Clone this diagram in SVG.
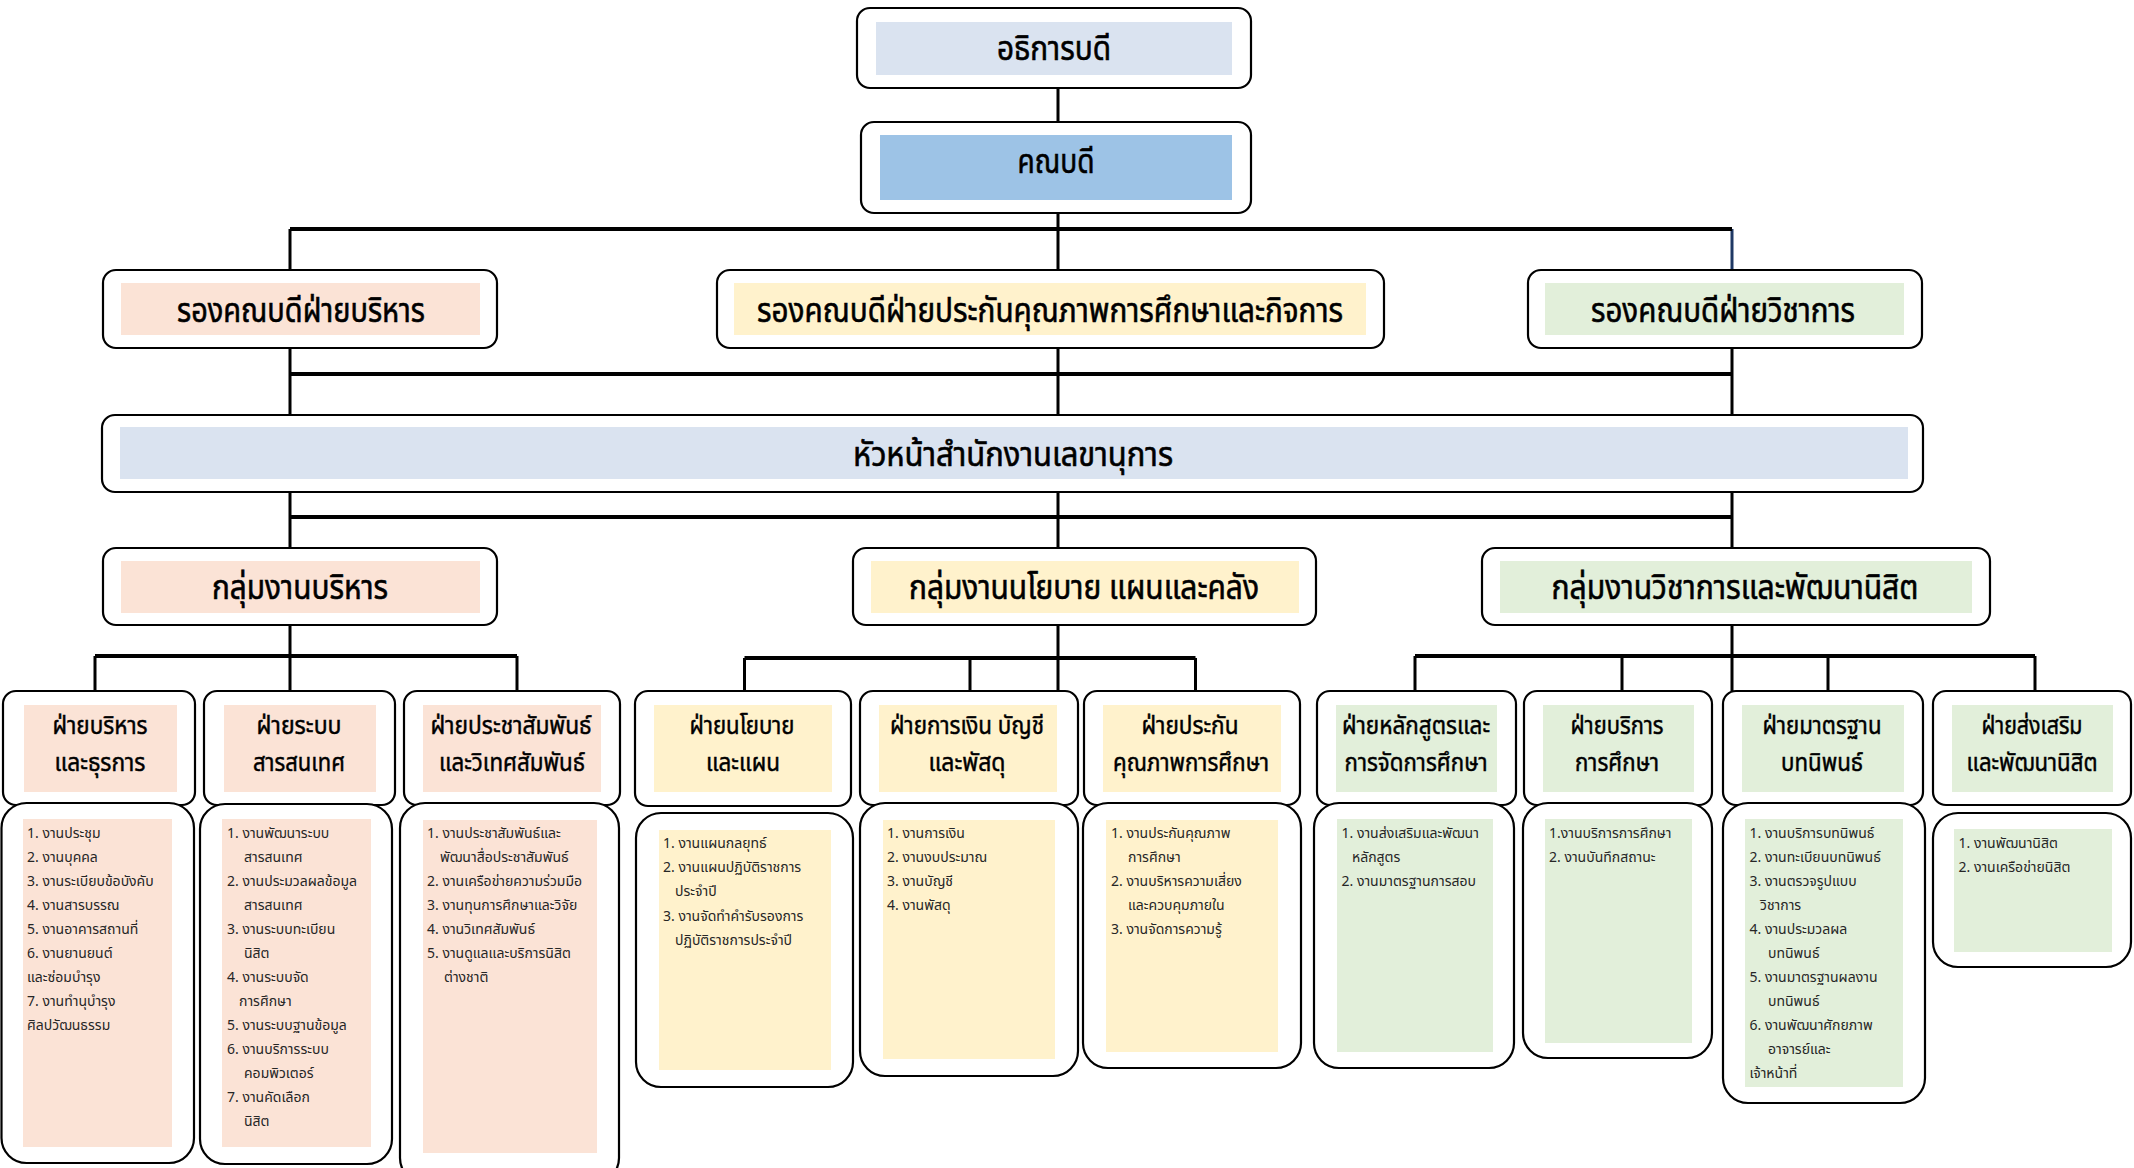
<svg xmlns="http://www.w3.org/2000/svg" width="2134" height="1168" viewBox="0 0 2134 1168">
<style>
.box{fill:#ffffff;stroke:#000000;stroke-width:2.2}
.blue{fill:#DAE3F0}
.blue2{fill:#9DC3E6}
.peach{fill:#FBE3D6}
.yel{fill:#FFF2CC}
.grn{fill:#E2EFDA}
.hd{font-family:"Noto Sans Thai","Noto Sans Thai UI","Loma","Garuda","Tahoma",sans-serif;fill:#000000;text-anchor:middle;font-weight:normal;stroke:#000000;stroke-width:0.6}
.h1{font-size:33px}
.h5{font-size:24px;stroke-width:0.45}
.li{font-family:"Noto Sans Thai","Noto Sans Thai UI","Loma","Garuda","Tahoma",sans-serif;font-size:14px;fill:#262626}
.ln{stroke:#000000;stroke-width:3;fill:none}
.bus{stroke:#000000;stroke-width:4;fill:none}
</style>
<rect width="2134" height="1168" fill="#ffffff"/>
<g id="connectors">
<path class="ln" d="M1058 88V122M1058 213V270M290 229V270M290 348V415M1058 348V415M1732 348V415M290 492V548M1058 492V548M1732 492V548M290 625V691M95 656V691M517 656V691M1058 625V691M744.5 658V691M970 658V691M1195.5 658V691M1732 625V691M1415 656V691M1622 656V693M1828 656V691M2035 656V691"/>
<path d="M1732 229V270" stroke="#1F3864" stroke-width="3" fill="none"/>
<path class="bus" d="M290 229H1732M290 374H1732M290 517H1732M95 656H517M744.5 658H1195.5M1415 656H2035"/>
</g>
<g id="n-dean-president">
<rect class="box" x="857" y="8" width="394" height="80" rx="13"/>
<rect class="blue" x="876" y="22" width="356" height="53"/>
<text class="hd h1" x="1054" y="60" textLength="114" lengthAdjust="spacingAndGlyphs">อธิการบดี</text>
</g>
<g id="n-dean">
<rect class="box" x="861" y="122" width="390" height="91" rx="13"/>
<rect class="blue2" x="880" y="135" width="352" height="65"/>
<text class="hd h1" x="1056" y="173" textLength="77" lengthAdjust="spacingAndGlyphs">คณบดี</text>
</g>
<g id="n-vd-admin">
<rect class="box" x="103" y="270" width="394" height="78" rx="13"/>
<rect class="peach" x="121" y="283" width="359" height="52"/>
<text class="hd h1" x="301" y="322" textLength="248" lengthAdjust="spacingAndGlyphs">รองคณบดีฝ่ายบริหาร</text>
</g>
<g id="n-vd-qa">
<rect class="box" x="717" y="270" width="667" height="78" rx="13"/>
<rect class="yel" x="734" y="283" width="632" height="52"/>
<text class="hd h1" x="1050" y="322" textLength="586" lengthAdjust="spacingAndGlyphs">รองคณบดีฝ่ายประกันคุณภาพการศึกษาและกิจการ</text>
</g>
<g id="n-vd-acad">
<rect class="box" x="1528" y="270" width="394" height="78" rx="13"/>
<rect class="grn" x="1545" y="283" width="359" height="52"/>
<text class="hd h1" x="1723" y="322" textLength="264" lengthAdjust="spacingAndGlyphs">รองคณบดีฝ่ายวิชาการ</text>
</g>
<g id="n-head-office">
<rect class="box" x="102" y="415" width="1821" height="77" rx="13"/>
<rect class="blue" x="120" y="427" width="1788" height="52"/>
<text class="hd h1" x="1013" y="466" textLength="320" lengthAdjust="spacingAndGlyphs">หัวหน้าสำนักงานเลขานุการ</text>
</g>
<g id="n-grp-admin">
<rect class="box" x="103" y="548" width="394" height="77" rx="13"/>
<rect class="peach" x="121" y="561" width="359" height="52"/>
<text class="hd h1" x="300" y="599" textLength="176" lengthAdjust="spacingAndGlyphs">กลุ่มงานบริหาร</text>
</g>
<g id="n-grp-policy">
<rect class="box" x="853" y="548" width="463" height="77" rx="13"/>
<rect class="yel" x="871" y="561" width="428" height="52"/>
<text class="hd h1" x="1084" y="599" textLength="350" lengthAdjust="spacingAndGlyphs">กลุ่มงานนโยบาย แผนและคลัง</text>
</g>
<g id="n-grp-acad">
<rect class="box" x="1482" y="548" width="508" height="77" rx="13"/>
<rect class="grn" x="1500" y="561" width="472" height="52"/>
<text class="hd h1" x="1735" y="599" textLength="367" lengthAdjust="spacingAndGlyphs">กลุ่มงานวิชาการและพัฒนานิสิต</text>
</g>

<g id="n-div1">
<rect class="box" x="3" y="691" width="192" height="114" rx="13"/>
<rect class="peach" x="24" y="705" width="153" height="87"/>
<text class="hd h5" x="100" y="734" textLength="95" lengthAdjust="spacingAndGlyphs">ฝ่ายบริหาร</text>
<text class="hd h5" x="100" y="771" textLength="91" lengthAdjust="spacingAndGlyphs">และธุรการ</text>
</g>
<g id="n-div2">
<rect class="box" x="204" y="691" width="191" height="114" rx="13"/>
<rect class="peach" x="224" y="705" width="152" height="87"/>
<text class="hd h5" x="299" y="734" textLength="85" lengthAdjust="spacingAndGlyphs">ฝ่ายระบบ</text>
<text class="hd h5" x="299" y="771" textLength="92" lengthAdjust="spacingAndGlyphs">สารสนเทศ</text>
</g>
<g id="n-div3">
<rect class="box" x="404" y="691" width="216" height="114" rx="13"/>
<rect class="peach" x="423" y="705" width="178" height="87"/>
<text class="hd h5" x="511" y="734" textLength="161" lengthAdjust="spacingAndGlyphs">ฝ่ายประชาสัมพันธ์</text>
<text class="hd h5" x="512" y="771" textLength="146" lengthAdjust="spacingAndGlyphs">และวิเทศสัมพันธ์</text>
</g>
<g id="n-div4">
<rect class="box" x="635" y="691" width="216" height="115" rx="13"/>
<rect class="yel" x="654" y="705" width="178" height="87"/>
<text class="hd h5" x="742" y="734" textLength="105" lengthAdjust="spacingAndGlyphs">ฝ่ายนโยบาย</text>
<text class="hd h5" x="743" y="771" textLength="74" lengthAdjust="spacingAndGlyphs">และแผน</text>
</g>
<g id="n-div5">
<rect class="box" x="860" y="691" width="218" height="114" rx="13"/>
<rect class="yel" x="879" y="705" width="178" height="87"/>
<text class="hd h5" x="967" y="734" textLength="154" lengthAdjust="spacingAndGlyphs">ฝ่ายการเงิน บัญชี</text>
<text class="hd h5" x="967" y="771" textLength="77" lengthAdjust="spacingAndGlyphs">และพัสดุ</text>
</g>
<g id="n-div6">
<rect class="box" x="1084" y="691" width="216" height="114" rx="13"/>
<rect class="yel" x="1103" y="705" width="178" height="87"/>
<text class="hd h5" x="1190" y="734" textLength="97" lengthAdjust="spacingAndGlyphs">ฝ่ายประกัน</text>
<text class="hd h5" x="1191" y="771" textLength="156" lengthAdjust="spacingAndGlyphs">คุณภาพการศึกษา</text>
</g>
<g id="n-div7">
<rect class="box" x="1317" y="691" width="199" height="114" rx="13"/>
<rect class="grn" x="1336" y="705" width="161" height="87"/>
<text class="hd h5" x="1416" y="734" textLength="148" lengthAdjust="spacingAndGlyphs">ฝ่ายหลักสูตรและ</text>
<text class="hd h5" x="1416" y="771" textLength="143" lengthAdjust="spacingAndGlyphs">การจัดการศึกษา</text>
</g>
<g id="n-div8">
<rect class="box" x="1524" y="691" width="188" height="114" rx="13"/>
<rect class="grn" x="1543" y="705" width="151" height="87"/>
<text class="hd h5" x="1617" y="734" textLength="93" lengthAdjust="spacingAndGlyphs">ฝ่ายบริการ</text>
<text class="hd h5" x="1617" y="771" textLength="84" lengthAdjust="spacingAndGlyphs">การศึกษา</text>
</g>
<g id="n-div9">
<rect class="box" x="1723" y="691" width="200" height="114" rx="13"/>
<rect class="grn" x="1742" y="705" width="162" height="87"/>
<text class="hd h5" x="1822" y="734" textLength="119" lengthAdjust="spacingAndGlyphs">ฝ่ายมาตรฐาน</text>
<text class="hd h5" x="1822" y="771" textLength="82" lengthAdjust="spacingAndGlyphs">บทนิพนธ์</text>
</g>
<g id="n-div10">
<rect class="box" x="1933" y="691" width="198" height="114" rx="13"/>
<rect class="grn" x="1952" y="705" width="161" height="87"/>
<text class="hd h5" x="2032" y="734" textLength="101" lengthAdjust="spacingAndGlyphs">ฝ่ายส่งเสริม</text>
<text class="hd h5" x="2032" y="771" textLength="131" lengthAdjust="spacingAndGlyphs">และพัฒนานิสิต</text>
</g>

<g id="n-list1">
<rect class="box" x="1.5" y="803" width="192.5" height="360" rx="25"/>
<rect class="peach" x="23" y="819" width="149" height="328"/>
<text class="li" x="27" y="838">1. งานประชุม</text>
<text class="li" x="27" y="862">2. งานบุคคล</text>
<text class="li" x="27" y="886">3. งานระเบียบข้อบังคับ</text>
<text class="li" x="27" y="910">4. งานสารบรรณ</text>
<text class="li" x="27" y="934">5. งานอาคารสถานที่</text>
<text class="li" x="27" y="958">6. งานยานยนต์</text>
<text class="li" x="27" y="982">และซ่อมบำรุง</text>
<text class="li" x="27" y="1006">7. งานทำนุบำรุง</text>
<text class="li" x="27" y="1030">ศิลปวัฒนธรรม</text>
</g>
<g id="n-list2">
<rect class="box" x="200" y="804" width="192" height="360" rx="25"/>
<rect class="peach" x="222" y="819" width="149" height="328"/>
<text class="li" x="227" y="838">1. งานพัฒนาระบบ</text>
<text class="li" x="244" y="862">สารสนเทศ</text>
<text class="li" x="227" y="886">2. งานประมวลผลข้อมูล</text>
<text class="li" x="244" y="910">สารสนเทศ</text>
<text class="li" x="227" y="934">3. งานระบบทะเบียน</text>
<text class="li" x="244" y="958">นิสิต</text>
<text class="li" x="227" y="982">4. งานระบบจัด</text>
<text class="li" x="239" y="1006">การศึกษา</text>
<text class="li" x="227" y="1030">5. งานระบบฐานข้อมูล</text>
<text class="li" x="227" y="1054">6. งานบริการระบบ</text>
<text class="li" x="244" y="1078">คอมพิวเตอร์</text>
<text class="li" x="227" y="1102">7. งานคัดเลือก</text>
<text class="li" x="244" y="1126">นิสิต</text>
</g>
<g id="n-list3">
<rect class="box" x="400" y="803" width="219" height="380" rx="25"/>
<rect class="peach" x="423" y="820" width="174" height="333"/>
<text class="li" x="427" y="838">1. งานประชาสัมพันธ์และ</text>
<text class="li" x="440" y="862">พัฒนาสื่อประชาสัมพันธ์</text>
<text class="li" x="427" y="886">2. งานเครือข่ายความร่วมมือ</text>
<text class="li" x="427" y="910">3. งานทุนการศึกษาและวิจัย</text>
<text class="li" x="427" y="934">4. งานวิเทศสัมพันธ์</text>
<text class="li" x="427" y="958">5. งานดูแลและบริการนิสิต</text>
<text class="li" x="444" y="982">ต่างชาติ</text>
</g>
<g id="n-list4">
<rect class="box" x="636" y="813" width="217" height="274" rx="25"/>
<rect class="yel" x="659" y="830" width="172" height="240"/>
<text class="li" x="663" y="848">1. งานแผนกลยุทธ์</text>
<text class="li" x="663" y="872">2. งานแผนปฏิบัติราชการ</text>
<text class="li" x="675" y="896">ประจำปี</text>
<text class="li" x="663" y="921">3. งานจัดทำคำรับรองการ</text>
<text class="li" x="675" y="945">ปฏิบัติราชการประจำปี</text>
</g>
<g id="n-list5">
<rect class="box" x="860" y="803" width="218" height="273" rx="25"/>
<rect class="yel" x="883" y="820" width="172" height="239"/>
<text class="li" x="887" y="838">1. งานการเงิน</text>
<text class="li" x="887" y="862">2. งานงบประมาณ</text>
<text class="li" x="887" y="886">3. งานบัญชี</text>
<text class="li" x="887" y="910">4. งานพัสดุ</text>
</g>
<g id="n-list6">
<rect class="box" x="1083" y="803" width="218" height="265" rx="25"/>
<rect class="yel" x="1106" y="820" width="172" height="232"/>
<text class="li" x="1111" y="838">1. งานประกันคุณภาพ</text>
<text class="li" x="1128" y="862">การศึกษา</text>
<text class="li" x="1111" y="886">2. งานบริหารความเสี่ยง</text>
<text class="li" x="1128" y="910">และควบคุมภายใน</text>
<text class="li" x="1111" y="934">3. งานจัดการความรู้</text>
</g>
<g id="n-list7">
<rect class="box" x="1314" y="803" width="200" height="265" rx="25"/>
<rect class="grn" x="1337" y="819" width="156" height="233"/>
<text class="li" x="1341.5" y="838">1. งานส่งเสริมและพัฒนา</text>
<text class="li" x="1352" y="862">หลักสูตร</text>
<text class="li" x="1341.5" y="886">2. งานมาตรฐานการสอบ</text>
</g>
<g id="n-list8">
<rect class="box" x="1523" y="803" width="189" height="255" rx="25"/>
<rect class="grn" x="1545" y="819" width="147" height="224"/>
<text class="li" x="1549" y="838">1.งานบริการการศึกษา</text>
<text class="li" x="1549" y="862">2. งานบันทึกสถานะ</text>
</g>
<g id="n-list9">
<rect class="box" x="1723" y="803" width="202" height="300" rx="25"/>
<rect class="grn" x="1745" y="819" width="158" height="268"/>
<text class="li" x="1749.5" y="838">1. งานบริการบทนิพนธ์</text>
<text class="li" x="1749.5" y="862">2. งานทะเบียนบทนิพนธ์</text>
<text class="li" x="1749.5" y="886">3. งานตรวจรูปแบบ</text>
<text class="li" x="1760" y="910">วิชาการ</text>
<text class="li" x="1749.5" y="934">4. งานประมวลผล</text>
<text class="li" x="1768" y="958">บทนิพนธ์</text>
<text class="li" x="1749.5" y="982">5. งานมาตรฐานผลงาน</text>
<text class="li" x="1768" y="1006">บทนิพนธ์</text>
<text class="li" x="1749.5" y="1030">6. งานพัฒนาศักยภาพ</text>
<text class="li" x="1768" y="1054">อาจารย์และ</text>
<text class="li" x="1749.5" y="1078">เจ้าหน้าที่</text>
</g>
<g id="n-list10">
<rect class="box" x="1933" y="813" width="198" height="154" rx="25"/>
<rect class="grn" x="1954" y="829" width="158" height="123"/>
<text class="li" x="1958.5" y="848">1. งานพัฒนานิสิต</text>
<text class="li" x="1958.5" y="872">2. งานเครือข่ายนิสิต</text>
</g>
</svg>
